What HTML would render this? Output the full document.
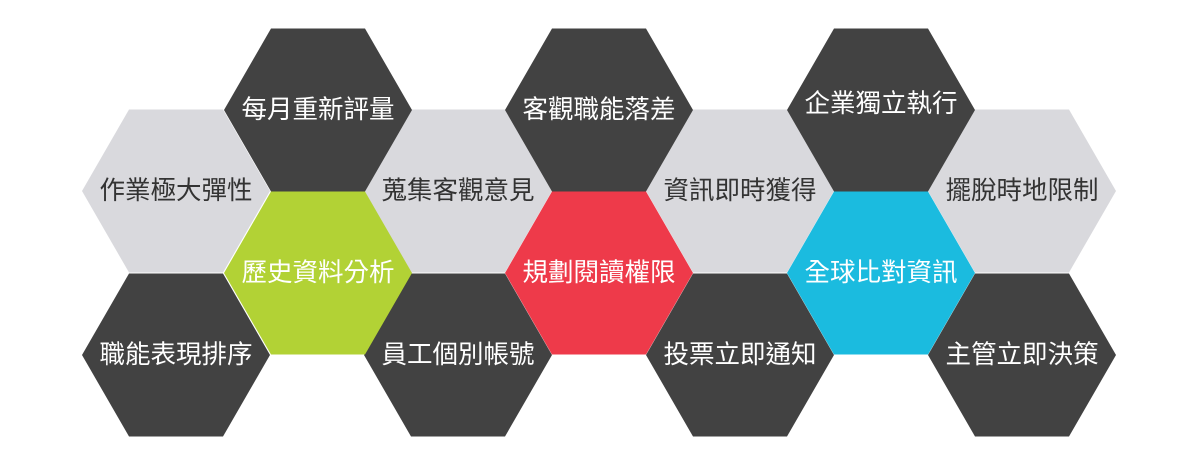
<!DOCTYPE html>
<html><head><meta charset="utf-8"><style>
html,body{margin:0;padding:0;background:#fff;width:1200px;height:475px;overflow:hidden}
svg text{font-family:"Liberation Sans","Noto Sans CJK TC",sans-serif;font-size:25.5px;text-anchor:middle;dominant-baseline:central}
</style></head><body>
<svg width="1200" height="475" xmlns="http://www.w3.org/2000/svg">
<defs><polygon id="h" points="-94,0 -47,-81.5 47,-81.5 94,0 47,81.5 -47,81.5"/></defs>
<g>
<use href="#h" x="176" y="191" fill="#d9d9dd"/>
<use href="#h" x="458" y="191" fill="#d9d9dd"/>
<use href="#h" x="740" y="191" fill="#d9d9dd"/>
<use href="#h" x="1022" y="191" fill="#d9d9dd"/>
<use href="#h" x="318" y="110" fill="#424242"/>
<use href="#h" x="599" y="110" fill="#424242"/>
<use href="#h" x="881" y="110" fill="#424242"/>
<use href="#h" x="176" y="355" fill="#424242"/>
<use href="#h" x="458" y="355" fill="#424242"/>
<use href="#h" x="740" y="355" fill="#424242"/>
<use href="#h" x="1022" y="355" fill="#424242"/>
<use href="#h" x="318" y="273" fill="#b2d235"/>
<use href="#h" x="599" y="273" fill="#ee3a4a"/>
<use href="#h" x="881" y="273" fill="#1bbbdf"/>
</g>
<g fill="#333">
<text x="176" y="191">作業極大彈性</text>
<text x="458" y="191">蒐集客觀意見</text>
<text x="740" y="191">資訊即時獲得</text>
<text x="1022" y="191">擺脫時地限制</text>
</g>
<g fill="#fff">
<text x="318" y="110">每月重新評量</text>
<text x="599" y="110">客觀職能落差</text>
<text x="881" y="104">企業獨立執行</text>
<text x="176" y="355">職能表現排序</text>
<text x="458" y="355">員工個別帳號</text>
<text x="740" y="355">投票立即通知</text>
<text x="1022" y="355">主管立即決策</text>
<text x="318" y="273">歷史資料分析</text>
<text x="599" y="273">規劃閱讀權限</text>
<text x="881" y="273">全球比對資訊</text>
</g>
</svg>
</body></html>
